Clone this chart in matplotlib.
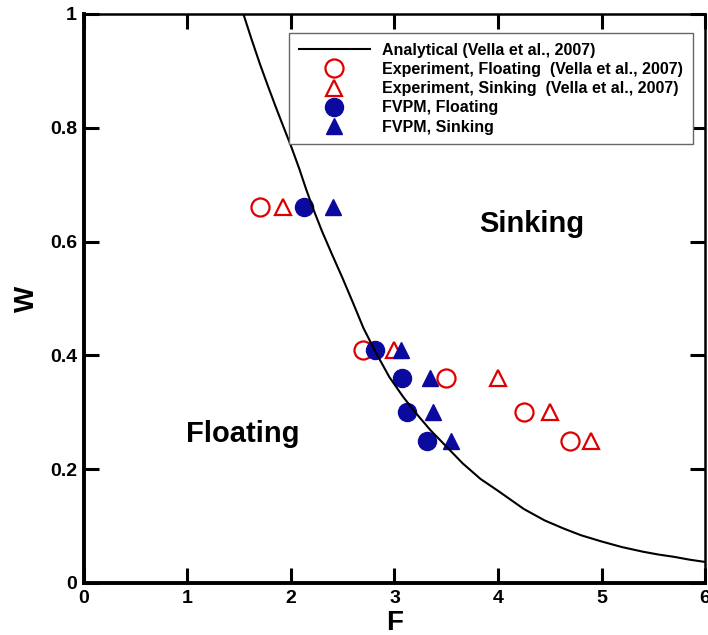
import matplotlib
matplotlib.use('Agg')
import matplotlib.pyplot as plt

plt.rcParams['font.family'] = ['Liberation Sans', 'DejaVu Sans']
plt.rcParams['font.weight'] = 'bold'

# analytical curve
curve_F = [1.54, 1.62, 1.70, 1.78, 1.85, 1.92, 2.00, 2.08, 2.15, 2.22, 2.30, 2.40,
           2.50, 2.60, 2.70, 2.82, 2.95, 3.08, 3.20, 3.35, 3.50, 3.66, 3.83, 4.00,
           4.25, 4.45, 4.63, 4.80, 5.00, 5.20, 5.40, 5.55, 5.70, 5.85, 6.00]
curve_W = [1.00, 0.955, 0.912, 0.872, 0.838, 0.805, 0.768, 0.728, 0.690, 0.655, 0.618, 0.576,
           0.535, 0.492, 0.448, 0.405, 0.362, 0.328, 0.300, 0.268, 0.240, 0.210, 0.183, 0.162,
           0.130, 0.110, 0.096, 0.084, 0.073, 0.063, 0.055, 0.050, 0.046, 0.041, 0.037]

# experiment (Vella et al., 2007)
exp_float_F = [1.70, 2.70, 3.50, 4.25, 4.70]
exp_float_W = [0.66, 0.41, 0.36, 0.30, 0.25]
exp_sink_F = [1.92, 3.00, 4.00, 4.50, 4.90]
exp_sink_W = [0.66, 0.41, 0.36, 0.30, 0.25]

# FVPM
fvpm_float_F = [2.13, 2.81, 3.07, 3.12, 3.31]
fvpm_float_W = [0.66, 0.41, 0.36, 0.30, 0.25]
fvpm_sink_F = [2.41, 3.06, 3.34, 3.37, 3.55]
fvpm_sink_W = [0.66, 0.41, 0.36, 0.30, 0.25]

red = '#dd0000'
blue = '#0a0a9e'

fig = plt.figure(figsize=(7.08, 6.35), dpi=100)
ax = fig.add_axes([0.1186, 0.0819, 0.8772, 0.8961])

ax.plot(curve_F, curve_W, color='black', lw=1.5, zorder=5,
        label='Analytical (Vella et al., 2007)')
ax.plot(exp_float_F, exp_float_W, 'o', ms=13, mfc='none', mec=red, mew=1.6,
        label='Experiment, Floating  (Vella et al., 2007)')
ax.plot(exp_sink_F, exp_sink_W, '^', ms=12, mfc='none', mec=red, mew=1.6,
        label='Experiment, Sinking  (Vella et al., 2007)')
ax.plot(fvpm_float_F, fvpm_float_W, 'o', ms=13, color=blue,
        label='FVPM, Floating')
ax.plot(fvpm_sink_F, fvpm_sink_W, '^', ms=12, color=blue,
        label='FVPM, Sinking')

ax.text(4.33, 0.617, 'Sinking', fontsize=21, fontweight='bold', ha='center', va='baseline')
ax.text(1.53, 0.248, 'Floating', fontsize=21, fontweight='bold', ha='center', va='baseline')

ax.set_xlim(0, 6)
ax.set_ylim(0, 1)
ax.set_xticks([0, 1, 2, 3, 4, 5, 6])
ax.set_yticks([0, 0.2, 0.4, 0.6, 0.8, 1])
ax.set_yticklabels(['0', '0.2', '0.4', '0.6', '0.8', '1'])
ax.tick_params(direction='in', length=11, width=2.2, top=True, right=True,
               labelsize=14, pad=5)
for lab in ax.get_xticklabels() + ax.get_yticklabels():
    lab.set_fontweight('bold')

ax.spines['left'].set_linewidth(2.8)
ax.spines['bottom'].set_linewidth(2.8)
ax.spines['top'].set_linewidth(1.8)
ax.spines['right'].set_linewidth(1.8)

ax.set_xlabel('F', fontsize=20, fontweight='bold', labelpad=2)
ax.set_ylabel('W', fontsize=20, fontweight='bold', labelpad=7)

leg = ax.legend(loc='upper left', bbox_to_anchor=(0.330, 0.9666), borderaxespad=0,
                prop={'size': 11.5, 'weight': 'bold'}, handlelength=4.5,
                handletextpad=0.75, labelspacing=0.27, borderpad=0.6,
                fancybox=False, framealpha=1, edgecolor='#666666')
leg.get_frame().set_linewidth(1.0)
leg.set_zorder(10)

fig.savefig('out.png', dpi=100)
